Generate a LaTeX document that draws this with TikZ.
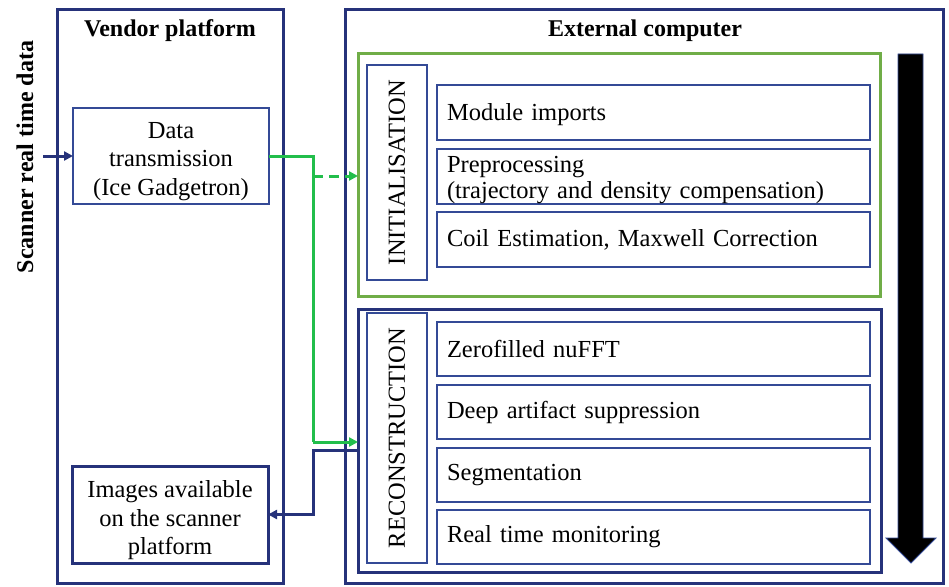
\documentclass[tikz,border=0pt]{standalone}
\usepackage{fontspec}
\setmainfont{Liberation Serif}
\usetikzlibrary{arrows.meta}
\definecolor{navy}{RGB}{38,50,122}
\definecolor{thinnavy}{RGB}{52,74,150}
\definecolor{grpgreen}{RGB}{112,173,71}
\definecolor{conngreen}{RGB}{34,190,75}
\tikzset{
  big/.style={font=\fontsize{24.5}{28.5}\selectfont},
  title/.style={font=\fontsize{24}{28}\selectfont\bfseries},
  outerbox/.style={draw=navy,line width=3pt,anchor=north west,inner sep=0pt,outer sep=0pt},
  thinbox/.style={draw=thinnavy,line width=1.5pt,anchor=north west,inner sep=0pt,outer sep=0pt,big,align=center},
  thickbox/.style={draw=navy,line width=3pt,anchor=north west,inner sep=0pt,outer sep=0pt,big,align=center},
  grpbox/.style={line width=3pt,anchor=north west,inner sep=0pt,outer sep=0pt},
  itembox/.style={draw=thinnavy,line width=1.5pt,anchor=north west,outer sep=0pt,inner ysep=0pt,inner xsep=10pt,
    minimum width=433pt,text width=413pt,align=left,big,minimum height=54pt},
  labbox/.style={draw=thinnavy,line width=1.5pt,rotate=90,inner sep=0pt,outer sep=0pt,minimum height=60pt,big},
  navyarrow/.style={draw=navy,line width=3pt,-{Triangle[length=9pt,width=9pt]}},
  greenline/.style={draw=conngreen,line width=3pt},
  greenarrow/.style={draw=conngreen,line width=3pt,-{Triangle[length=9pt,width=9pt]}},
}
\begin{document}
\begin{tikzpicture}[x=1pt,y=-1pt]
\useasboundingbox (0,0) rectangle (949,586);
\fill[white] (0,0) rectangle (949,586);
% outer boxes
\node[outerbox,minimum width=226pt,minimum height=573pt] (vendor) at (57,10) {};
\node[title] (vtitle) at (170,31) {Vendor platform};
\node[outerbox,minimum width=598pt,minimum height=573pt] (ext) at (345,10) {};
\node[title] (etitle) at (645,31) {External computer};
% scanner label
\node[title,rotate=90] (scan) at (25,157) {Scanner real time data};
% vendor inner boxes
\node[thinbox,minimum width=196pt,minimum height=96pt] (dt) at (73,108)
  {\rule{0pt}{27pt}Data\\transmission\\(Ice Gadgetron)};
\node[thickbox,minimum width=196pt,minimum height=97pt] (img) at (72,466)
  {\rule{0pt}{29pt}Images available\\on the scanner\\platform};
% groups
\node[grpbox,draw=grpgreen,minimum width=522pt,minimum height=242pt] (initgrp) at (358,54) {};
\node[grpbox,draw=navy,minimum width=523pt,minimum height=263pt] (recgrp) at (358,309) {};
% labels
\node[labbox,minimum width=215pt] (initlab) at (397,172.5) {INITIALISATION};
\node[labbox,minimum width=250pt] (reclab) at (397,438) {RECONSTRUCTION};
% items
\node[itembox,minimum height=55pt] (mod) at (437,85) {\rule{0pt}{22pt}Module imports};
\node[itembox,minimum height=55pt] (pre) at (437,149) {\rule{0pt}{23pt}Preprocessing\\[-2pt](trajectory and density compensation)};
\node[itembox,minimum height=55pt] (coil) at (437,212) {Coil Estimation, Maxwell Correction};
\node[itembox] (zf) at (437,322) {Zerofilled nuFFT};
\node[itembox] (deep) at (437,385) {Deep artifact suppression};
\node[itembox] (seg) at (437,448) {Segmentation};
\node[itembox] (rt) at (437,510) {Real time monitoring};
% big black arrow
\filldraw[fill=black,draw=thinnavy,line width=0.8pt]
  (898,54) -- (923,54) -- (923,538) -- (936,538) -- (911,563) -- (886,538) -- (898,538) -- cycle;
% connectors
\coordinate (src) at (43,156);
\draw[navyarrow] (src) -- (dt.west);
\coordinate (j1) at (313,156);
\coordinate (j2) at (313,442);
\coordinate (j3) at (313,176);
\draw[greenline] (dt.east) -- (j1) -- (j2);
\draw[greenarrow] (j2) -- (j2 -| recgrp.west);
\draw[greenarrow,dash pattern=on 10pt off 6pt] (j3) -- (j3 -| initgrp.west);
\coordinate (k0) at (313,450);
\draw[navyarrow] (k0 -| recgrp.west) -- (k0) |- (img.east);
\end{tikzpicture}
\end{document}
